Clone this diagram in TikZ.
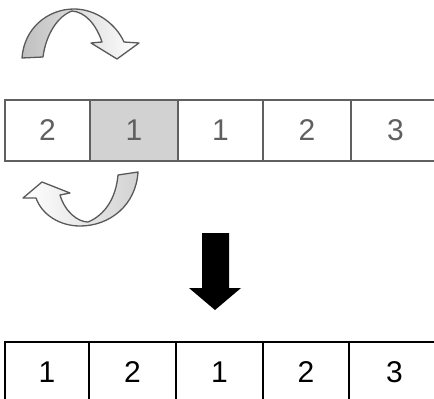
\documentclass[tikz,border=0pt]{standalone}
\usepackage{fontspec}
\setmainfont{Liberation Sans}
\begin{document}
\begin{tikzpicture}[x=1pt,y=-1pt,
  cellA/.style={draw=gray!75!black, line width=1.2pt, inner sep=0pt, outer sep=0pt,
    minimum height=61pt, text=gray!75!black, font=\fontsize{30}{30}\selectfont},
  cellB/.style={draw=black, line width=1.2pt, inner sep=0pt, outer sep=0pt,
    minimum height=60pt, text=black, font=\fontsize{30}{30}\selectfont},
  curvy/.style={draw=gray!70!black, line width=1.3pt, line join=round}]
\useasboundingbox (0,0) rectangle (434,399);
\clip (0,0) rectangle (434,399);
% top row
\node[cellA, minimum width=85pt] (t1) at (47.5,130.5) {2};
\node[cellA, minimum width=88pt, fill=gray!35] (t2) at (134,130.5) {1};
\node[cellA, minimum width=85pt] (t3) at (220.5,130.5) {1};
\node[cellA, minimum width=88pt] (t4) at (307,130.5) {2};
\node[cellA, minimum width=89pt] (t5) at (395.5,130.5) {3};
% bottom row
\node[cellB, minimum width=84pt] (b1) at (47,372) {1};
\node[cellB, minimum width=87pt] (b2) at (132.5,372) {2};
\node[cellB, minimum width=87pt] (b3) at (219.5,372) {1};
\node[cellB, minimum width=86pt] (b4) at (306,372) {2};
\node[cellB, minimum width=91pt] (b5) at (394.5,372) {3};
% top curved arrow
\shade[curvy, left color=gray!50, right color=white]
  (22,58) .. controls (24,28) and (48,9) .. (74,9)
  .. controls (96,9) and (116,24) .. (124,42) -- (139,43) -- (117,59) -- (91,43) -- (102,42)
  .. controls (96,24) and (85,12) .. (72,11)
  .. controls (58,16) and (46,34) .. (43,57) -- cycle;
% bottom curved arrow
\shade[curvy, right color=gray!35, left color=white]
  (118,175) -- (138,172) .. controls (136,205) and (110,226) .. (80,226)
  .. controls (60,226) and (42,215) .. (36,198) -- (23,198) -- (42,182) -- (70,193) -- (60,195)
  .. controls (65,212) and (78,222) .. (88,222)
  .. controls (105,215) and (116,198) .. (118,175) -- cycle;
% black down arrow
\fill[black] (202,233) -- (229,233) -- (229,288) -- (241,288) -- (215,310) -- (189,288) -- (202,288) -- cycle;
\end{tikzpicture}
\end{document}
